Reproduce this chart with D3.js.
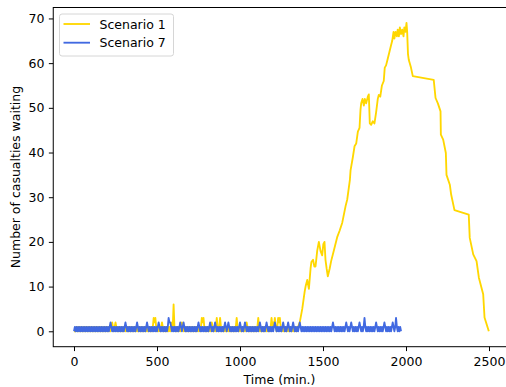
<!DOCTYPE html>
<html>
<head>
<meta charset="utf-8">
<script src="https://cdn.jsdelivr.net/npm/d3@7"></script>
<style>
  body { margin: 0; background: #fff; }
  svg { display: block; font-family: "DejaVu Sans", sans-serif; }
</style>
</head>
<body>
<svg width="506" height="387"></svg>
<script>
// Scenario 1, low part, one value every 5 minutes from t = 0 (one row = 100 min)
var s1LowValues = [
  0,0,0,1,0,1,0,1,0,1,0,1,0,1,0,1,0,1,0,1,
  0,1,0,1,0,1,0,1,0,1,0,1,0,1,0,1,0,1,0,1,
  0,1,0,1,0,1,2,1,0,1,2,1,0,1,0,1,0,1,0,1,
  0,1,0,1,0,1,0,1,0,1,0,1,0,1,0,1,0,1,0,1,
  0,1,0,1,0,1,0,1,0,1,0,1,0,1,0,1,3,2,3,1,
  0,1,0,1,0,1,2,1,0,1,0,1,0,1,0,1,0,1,2,1,
  6,1,0,1,0,1,0,1,0,1,2,1,0,1,0,1,0,1,0,1,
  0,1,0,1,0,1,0,1,0,1,0,1,0,1,3,2,3,1,0,1,
  0,1,0,1,0,1,2,1,0,1,0,1,3,1,0,1,3,1,0,1,
  0,1,0,1,0,1,0,1,0,1,0,1,0,1,0,1,3,1,0,1,
  0,1,0,1,0,1,0,1,2,1,0,1,0,1,0,1,0,1,0,1,
  0,1,3,1,0,1,0,1,0,1,0,1,0,1,0,1,0,1,3,1,
  2,1,3,1,0,1,3,2,3,1,0,1,0,1,0,1,0,1,0,1,
  0,1,0,1,0,1,0,1,0,1
];
// Scenario 1, the big wave
var s1PeakTime = [1350,1360,1375,1390,1395,1405,1415,1425,1430,1440,1448,1455,1465,1475,1485,1495,1502,1509,1515,1522,1529,1540,1549,1565,1585,1600,1616,1636,1646,1662,1666,1680,1690,1700,1710,1720,1726,1730,1738,1746,1752,1760,1770,1776,1782,1790,1800,1810,1820,1830,1836,1845,1855,1866,1872,1880,1890,1900,1910,1917,1925,1930,1937,1945,1950,1957,1963,1970,1977,1985,1990,1997,2003,2007,2012,2017,2030,2041,2167,2178,2192,2208,2210,2224,2240,2244,2264,2272,2292,2378,2384,2405,2425,2439,2465,2473,2499];
var s1PeakValue = [1,2,5,9,10,11.5,9.5,14,15.5,16,14.5,14.5,18,20,18,17,19.5,20,16,14,12.3,14,15.7,18,21,22.5,24.3,28,29.5,33.9,36,39,41.4,42,44.7,45.5,49.6,51,52,50.5,52,51,52.5,53,46.5,46.2,47,46.5,49,52,52.9,52.5,55,56,59,59.5,61,62.5,64,65,67,65.5,67,66,67.5,66,68,66.5,67.5,66,68,67,69,67,62,60.7,59,57.1,56.25,52.2,51,49.2,44,42.9,39.9,35,32.8,30.6,27.1,26.1,20.9,17.2,15.7,12,8.3,3.1,0];
// Scenario 7, one value every 5 minutes from t = 0 (one row = 100 min)
var s7Values = [
  0,1,0,1,0,1,0,1,0,1,0,1,0,1,0,1,0,1,0,1,
  0,1,0,1,0,1,0,1,0,1,0,1,0,1,0,1,0,1,0,1,
  0,1,0,1,2,1,0,1,0,1,0,1,0,1,0,1,0,1,0,1,
  0,1,2,1,0,1,0,1,0,1,0,1,0,1,0,1,2,1,0,1,
  0,1,0,1,0,1,0,1,2,1,0,1,0,1,0,1,0,1,0,1,
  0,1,2,1,0,1,0,1,0,1,0,1,0,1,3,2,2,1,0,1,
  0,1,0,1,0,1,0,1,2,1,0,1,2,1,0,1,0,1,0,1,
  0,1,0,1,0,1,0,1,0,1,2,1,0,1,0,1,0,1,0,1,
  0,1,0,1,2,1,0,1,0,1,2,1,0,1,0,1,0,1,0,1,
  0,1,2,1,0,1,2,1,0,1,0,1,0,1,0,1,0,1,0,1,
  2,1,0,1,0,1,2,1,0,1,0,1,0,1,0,1,0,1,0,1,
  0,1,0,1,2,1,0,1,0,1,0,1,2,1,0,1,0,1,0,1,
  0,1,2,1,0,1,0,1,0,1,0,1,2,1,0,1,0,1,2,1,
  0,1,0,1,2,1,0,1,0,1,0,1,2,1,0,1,0,1,0,1,
  0,1,0,1,0,1,0,1,0,1,0,1,0,1,0,1,0,1,0,1,
  0,1,0,1,0,1,0,1,0,1,0,1,2,1,0,1,0,1,0,1,
  0,1,0,1,0,1,0,1,2,1,0,1,0,1,2,1,0,1,0,1,
  0,1,0,1,2,1,0,1,0,1,3,1,0,1,0,1,0,1,0,1,
  0,1,0,1,2,1,0,1,0,1,0,1,0,1,2,1,0,1,0,1,
  0,1,0,1,2,1,0,1,3,1,0,1,0,1,0
];
var sampleStep = 5;
var seriesNames = ["Scenario 1", "Scenario 7"];
var seriesColors = ["#ffd700", "#4169e1"];
var xTicks = [0, 500, 1000, 1500, 2000, 2500];
var yTicks = [0, 10, 20, 30, 40, 50, 60, 70];

var s1 = s1LowValues.map(function (v, i) { return [i * sampleStep, v]; })
  .concat(s1PeakTime.map(function (t, i) { return [t, s1PeakValue[i]]; }));
var s7 = s7Values.map(function (v, i) { return [i * sampleStep, v]; });

var svg = d3.select("svg"),
    margin = {top: 7.5, left: 53.25},
    width = 456.5,
    height = 339.2,
    fs = 12.5;

var x = d3.scaleLinear().domain([-125, 2625]).range([0, width]);
var y = d3.scaleLinear().domain([-3.45, 72.45]).range([height, 0]);

var g = svg.append("g").attr("transform", "translate(" + margin.left + "," + margin.top + ")");

var line = d3.line()
    .x(function (d) { return x(d[0]); })
    .y(function (d) { return y(d[1]); });

g.append("defs").append("clipPath").attr("id", "clip")
  .append("rect").attr("width", width).attr("height", height);

var plot = g.append("g").attr("clip-path", "url(#clip)");
[s1, s7].forEach(function (s, i) {
  plot.append("path")
    .datum(s)
    .attr("fill", "none")
    .attr("stroke", seriesColors[i])
    .attr("stroke-width", 1.85)
    .attr("stroke-linejoin", "round")
    .attr("d", line);
});

// axes
var xAxis = g.append("g")
  .attr("transform", "translate(0," + height + ")")
  .call(d3.axisBottom(x).tickValues(xTicks).tickFormat(d3.format("d")).tickSize(4.4).tickPadding(6));
var yAxis = g.append("g")
  .call(d3.axisLeft(y).tickValues(yTicks).tickFormat(d3.format("d")).tickSize(4.4).tickPadding(4.5));
[xAxis, yAxis].forEach(function (a) {
  a.selectAll("text").attr("font-size", fs).attr("font-family", "DejaVu Sans").attr("fill", "#000");
  a.selectAll("line").attr("stroke", "#000").attr("stroke-width", 1);
  a.select(".domain").remove();
});

// spines
g.append("rect")
  .attr("width", width).attr("height", height)
  .attr("fill", "none").attr("stroke", "#000").attr("stroke-width", 1);

svg.append("text")
  .attr("x", margin.left + width / 2 - 2).attr("y", 384)
  .attr("text-anchor", "middle").attr("font-size", fs)
  .text("Time (min.)");

svg.append("text")
  .attr("transform", "translate(19.5," + (margin.top + height / 2) + ")rotate(-90)")
  .attr("text-anchor", "middle").attr("font-size", fs)
  .text("Number of casualties waiting");

// legend
var lg = svg.append("g").attr("transform", "translate(59.5,14)");
lg.append("rect")
  .attr("width", 114).attr("height", 42).attr("rx", 2.5)
  .attr("fill", "#fff").attr("fill-opacity", 0.8)
  .attr("stroke", "#d6d6d6").attr("stroke-width", 1);
seriesNames.forEach(function (n, i) {
  var yy = 10 + i * 18.7;
  lg.append("line")
    .attr("x1", 4).attr("x2", 30.5).attr("y1", yy).attr("y2", yy)
    .attr("stroke", seriesColors[i]).attr("stroke-width", 1.85);
  lg.append("text")
    .attr("x", 40).attr("y", yy + 4.5)
    .attr("font-size", fs)
    .text(n);
});
</script>
</body>
</html>
